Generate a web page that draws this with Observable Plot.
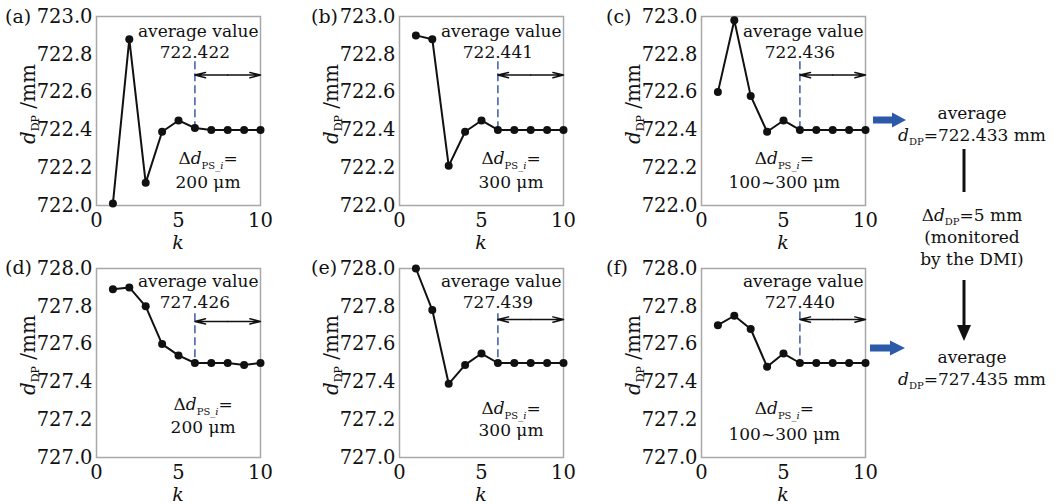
<!DOCTYPE html>
<html><head><meta charset="utf-8">
<script src="https://cdn.jsdelivr.net/npm/d3@7"></script>
<script src="https://cdn.jsdelivr.net/npm/@observablehq/plot@0.6"></script>
<style>
body{margin:0;background:#fff;font-family:"DejaVu Serif",serif;color:#111;}
#root{position:relative;width:1058px;height:504px;overflow:hidden;background:#fff;}
.abs{position:absolute;white-space:nowrap;line-height:1;}
.sub{font-size:11px;position:relative;top:4px;}
.ylab{font-size:20px;transform:translate(-50%,-50%) rotate(-90deg);}
.letter{font-size:19px;transform:translateY(-50%);}
.klab{font-size:19px;font-style:italic;transform:translate(-50%,-50%);}
.side{font-size:17px;transform:translate(-50%,-50%);}
</style></head><body><div id="root"></div>
<script>
// ---- data ----
const kValues = [1,2,3,4,5,6,7,8,9,10];
const seriesA = [722.01,722.88,722.12,722.39,722.45,722.41,722.40,722.40,722.40,722.40];
const seriesB = [722.90,722.88,722.21,722.39,722.45,722.40,722.40,722.40,722.40,722.40];
const seriesC = [722.60,722.98,722.58,722.39,722.45,722.40,722.40,722.40,722.40,722.40];
const seriesD = [727.89,727.90,727.80,727.60,727.54,727.50,727.50,727.50,727.49,727.50];
const seriesE = [728.00,727.78,727.39,727.49,727.55,727.50,727.50,727.50,727.50,727.50];
const seriesF = [727.70,727.75,727.68,727.48,727.55,727.50,727.50,727.50,727.50,727.50];
const panelLetters = ["(a)","(b)","(c)","(d)","(e)","(f)"];
const averageValues = ["722.422","722.441","722.436","727.426","727.439","727.440"];
const stepLabels = ["200 μm","300 μm","100~300 μm","200 μm","300 μm","100~300 μm"];
const yTicksTop = [722.0,722.2,722.4,722.6,722.8,723.0];
const yTicksBottom = [727.0,727.2,727.4,727.6,727.8,728.0];
const xTicks = [0,5,10];
const finalAverages = ["722.433","727.435"];
const deltaDP = "5 mm";

// ---- layout (annotation anchors in data units) ----
const seriesList = [seriesA,seriesB,seriesC,seriesD,seriesE,seriesF];
const colLeft = [0,303,605];
const rowTop = [0,251];
const letterX = [5,311,606];
const kOffset = [37,37];
const ann = [
  {tx:6.8, dashTop:722.76, arrowY:722.69, avgY:722.92, valY:722.81, d1:722.25, d2:722.12},
  {tx:6.8, dashTop:722.76, arrowY:722.69, avgY:722.92, valY:722.81, d1:722.25, d2:722.12},
  {tx:5.05,dashTop:722.76, arrowY:722.69, avgY:722.92, valY:722.81, d1:722.25, d2:722.12},
  {tx:6.5, dashTop:727.76, arrowY:727.72, avgY:727.93, valY:727.82, d1:727.28, d2:727.16},
  {tx:6.8, dashTop:727.76, arrowY:727.73, avgY:727.93, valY:727.82, d1:727.26, d2:727.14},
  {tx:5.05,dashTop:727.77, arrowY:727.73, avgY:727.93, valY:727.82, d1:727.26, d2:727.12}
];

const root = document.getElementById("root");
function addHTML(cls, x, y, html){
  const d = document.createElement("div");
  d.className = "abs " + cls;
  d.style.left = x + "px"; d.style.top = y + "px";
  d.innerHTML = html;
  root.appendChild(d);
  return d;
}

for (let i = 0; i < 6; i++) {
  const row = i < 3 ? 0 : 1, col = i % 3;
  const values = seriesList[i];
  const yTicks = row ? yTicksBottom : yTicksTop;
  const data = kValues.map((k, j) => ({k, d: values[j]}));
  const a = ann[i];
  const mt = row ? 17 : 16, mb = row ? 44 : 45;
  const plot = Plot.plot({
    width: 280, height: 250,
    marginLeft: 96, marginRight: 20, marginTop: mt, marginBottom: mb,
    x: {domain: [0, 10]},
    y: {domain: [yTicks[0], yTicks[yTicks.length - 1]]},
    style: {fontFamily: "DejaVu Serif", fontSize: "19.5px", background: "none", overflow: "visible", color: "#111"},
    marks: [
      Plot.frame({stroke: "#a8a8a8", strokeWidth: 1.5}),
      Plot.axisX({ticks: xTicks, tickSize: 0, tickPadding: 8, label: null, tickFormat: d => String(d)}),
      Plot.axisY({ticks: yTicks, tickSize: 0, tickPadding: 4, label: null, tickFormat: d => d.toFixed(1)}),
      Plot.ruleX([kValues[5]], {y1: a.dashTop, y2: values[5], stroke: "#3b5ca8", strokeWidth: 1.5, strokeDasharray: "8,4"}),
      Plot.arrow([0], {x1: 8, x2: 6, y1: a.arrowY, y2: a.arrowY, headLength: 12, headAngle: 28, strokeWidth: 1.5, stroke: "#111"}),
      Plot.arrow([0], {x1: 8, x2: 10, y1: a.arrowY, y2: a.arrowY, headLength: 12, headAngle: 28, strokeWidth: 1.5, stroke: "#111"}),
      Plot.line(data, {x: "k", y: "d", strokeWidth: 2, stroke: "#111"}),
      Plot.dot(data, {x: "k", y: "d", r: 4, fill: "#111"}),
      Plot.text(["average value"], {x: 10, y: a.avgY, text: d => d, textAnchor: "end", dx: -2, fontSize: 17, fill: "#111"}),
      Plot.text([averageValues[i]], {x: 6, y: a.valY, text: d => d, fontSize: 17, fill: "#111"}),
      Plot.text(["Δd"], {x: a.tx, y: a.d1, text: d => d, fontSize: 17, fill: "#111", className: "dps"}),
      Plot.text([stepLabels[i]], {x: a.tx, y: a.d2, text: d => d, fontSize: 17, fill: "#111"})
    ]
  });
  plot.querySelectorAll("g.dps text").forEach(t => {
    t.innerHTML = 'Δ<tspan font-style="italic">d</tspan><tspan font-size="10" dy="5">PS_<tspan font-style="italic">i</tspan></tspan><tspan dy="-5">=</tspan>';
  });
  const holder = document.createElement("div");
  holder.className = "abs";
  holder.style.left = colLeft[col] + "px";
  holder.style.top = rowTop[row] + "px";
  holder.appendChild(plot);
  root.appendChild(holder);

  const frameLeft = colLeft[col] + 96;
  const frameBottom = rowTop[row] + 250 - mb;
  addHTML("letter", letterX[col], rowTop[row] + 16, panelLetters[i]);
  addHTML("klab", frameLeft + 82, frameBottom + kOffset[row], "k");
  addHTML("ylab", frameLeft - 68, rowTop[row] + 104, '<i>d</i><span class="sub">DP</span> /mm');
}

// ---- side annotation ----
const NS = "http://www.w3.org/2000/svg";
const svg = document.createElementNS(NS, "svg");
svg.setAttribute("width", 1058); svg.setAttribute("height", 504);
svg.style.position = "absolute"; svg.style.left = "0"; svg.style.top = "0";
svg.innerHTML =
  '<polygon fill="#2d5aa8" points="873,116.5 892,116.5 892,112.5 906,120 892,127.5 892,123.5 873,123.5"/>' +
  '<polygon fill="#2d5aa8" points="870,344.5 890,344.5 890,340.5 905,348 890,355.5 890,351.5 870,351.5"/>' +
  '<line x1="964" y1="149" x2="964" y2="192" stroke="#111" stroke-width="3"/>' +
  '<line x1="964" y1="280" x2="964" y2="327" stroke="#111" stroke-width="3"/>' +
  '<polygon fill="#111" points="957,325 971,325 964,341"/>';
root.appendChild(svg);

addHTML("side", 972, 113, "average");
addHTML("side", 972, 135, '<i>d</i><span class="sub" style="font-size:10px">DP</span>=' + finalAverages[0] + " mm");
addHTML("side", 972, 215, 'Δ<i>d</i><span class="sub" style="font-size:10px">DP</span>=' + deltaDP);
addHTML("side", 972, 237, "(monitored");
addHTML("side", 972, 259, "by the DMI)");
addHTML("side", 972, 357, "average");
addHTML("side", 972, 379, '<i>d</i><span class="sub" style="font-size:10px">DP</span>=' + finalAverages[1] + " mm");
</script></body></html>
